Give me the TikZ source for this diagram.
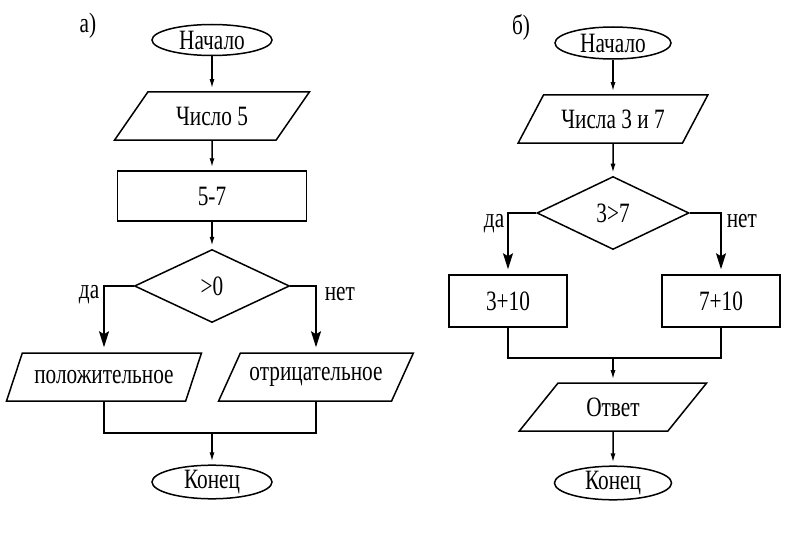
\documentclass[tikz,border=0pt]{standalone}
\usepackage{fontspec}
\setmainfont{Liberation Serif}[FakeStretch=0.76]
\usetikzlibrary{shapes.geometric, arrows.meta}

\begin{document}
\begin{tikzpicture}[x=1pt, y=-1pt, line width=1.5pt,
    every node/.style={font=\fontsize{28}{30}\selectfont},
    term/.style={draw, ellipse, inner sep=0pt, minimum width=120pt, minimum height=31pt},
    io/.style={draw, trapezium, trapezium left angle=45, trapezium right angle=135,
        trapezium stretches=true, inner sep=0pt, minimum width=195pt, minimum height=48pt},
    proc/.style={draw, rectangle, inner sep=0pt, minimum width=189pt, minimum height=50pt},
    cond/.style={draw, diamond, aspect=2.1, inner sep=0pt, minimum width=155pt, minimum height=73pt},
    arr/.style={-{Latex[length=9pt, width=5pt]}, shorten >=3pt},
    big/.style={-{Stealth[length=16pt, width=10pt, inset=3pt]}, shorten >=5pt}]
    \useasboundingbox (0,0) rectangle (796,535);

    % а)
    \node (laba) at (88,26) {а)};
    \node[term] (starta) at (212,40) {Начало};
    \node[io] (inpa) at (212,116) {Число 5};
    \node[proc] (opa) at (212,196) {5-7};
    \node[cond] (conda) at (212,286) {>0};
    \node[io] (posa) at (104,377) {положительное};
    \node[io] (nega) at (316,377) {отрицательное};
    \coordinate (ja) at (212,433);
    \node[term] (enda) at (212,482) {Конец};
    \node[anchor=base east, inner xsep=0pt] (lyesa) at (100,298) {да};
    \node[anchor=base west, inner xsep=0pt] (lnoa) at (324,300) {нет};

    \draw[arr] (starta) -- (inpa);
    \draw[arr] (inpa) -- (opa);
    \draw[arr] (opa) -- (conda);
    \draw[big] (conda.west) -| (posa.north);
    \draw[big] (conda.east) -| (nega.north);
    \draw (posa.south) |- (ja) -| (nega.south);
    \draw[arr] (ja) -- (enda);

    % б)
    \node (labb) at (521,27) {б)};
    \node[term, minimum width=116pt, minimum height=32pt] (startb) at (613,43) {Начало};
    \node[io, minimum width=190pt] (inpb) at (613,119) {Числа 3 и 7};
    \node[cond, minimum width=152pt] (condb) at (613,213) {3>7};
    \node[proc, minimum width=118pt, minimum height=52pt] (yesb) at (508,301) {3+10};
    \node[proc, minimum width=118pt, minimum height=52pt] (nob) at (721,301) {7+10};
    \coordinate (jb) at (613,358);
    \node[io, minimum width=189pt] (outb) at (613,407) {Ответ};
    \node[term, minimum width=117pt, minimum height=33pt] (endb) at (613,483) {Конец};
    \node[anchor=base east, inner xsep=0pt] (lyesb) at (505,227) {да};
    \node[anchor=base west, inner xsep=0pt] (lnob) at (726,227) {нет};

    \draw[arr] (startb) -- (inpb);
    \draw[arr] (inpb) -- (condb);
    \draw[big] (condb.west) -| (yesb.north);
    \draw[big] (condb.east) -| (nob.north);
    \draw (yesb.south) |- (jb) -| (nob.south);
    \draw[arr] (jb) -- (outb);
    \draw[arr] (outb) -- (endb);
\end{tikzpicture}
\end{document}
